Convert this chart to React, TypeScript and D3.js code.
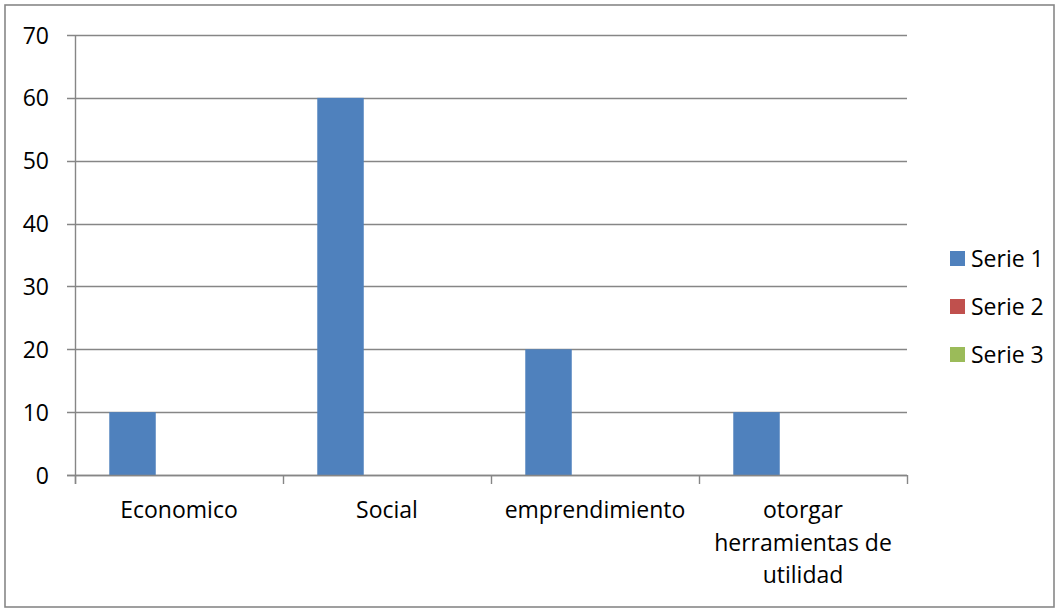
import React from "react";
import * as d3 from "d3";

const categories: string[][] = [
  ["Economico"],
  ["Social"],
  ["emprendimiento"],
  ["otorgar", "herramientas de", "utilidad"],
];
const seriesNames = ["Serie 1", "Serie 2", "Serie 3"];
const serie1 = [10, 60, 20, 10];
const serie2 = [0, 0, 0, 0];
const serie3 = [0, 0, 0, 0];
const colors = ["#4F81BD", "#C0504D", "#9BBB59"];
const yTicks = [0, 10, 20, 30, 40, 50, 60, 70];

const W = 1060;
const H = 609;
const plot = { left: 75, right: 907, top: 35, bottom: 475 };
const FONT = "'Open Sans', 'Liberation Sans', sans-serif";
const GRID = "#868686";
const FS = 23;

export default function App() {
  const seriesValues = [serie1, serie2, serie3];
  const catKeys = categories.map((c) => c.join(" "));
  const x0 = d3.scaleBand<string>().domain(catKeys).range([plot.left, plot.right]).padding(0);
  const x1 = d3
    .scaleBand<string>()
    .domain(seriesNames)
    .range([0, x0.bandwidth()])
    .paddingInner(0)
    .paddingOuter(0.737);
  const y = d3.scaleLinear().domain([0, 70]).range([plot.bottom, plot.top]);

  const boundaries = d3.range(catKeys.length + 1).map((i) => plot.left + i * x0.step());

  return (
    <svg
      width={W}
      height={H}
      style={{ position: "absolute", left: 0, top: 0, background: "#fff" }}
      fontFamily={FONT}
    >
      <rect x={0} y={0} width={W} height={H} fill="#fff" />
      <rect x={5} y={5} width={1049} height={602} fill="none" stroke="#878787" strokeWidth={1.6} />

      {/* gridlines */}
      {yTicks.map((t) => (
        <line
          key={"g" + t}
          x1={plot.left - 8}
          x2={plot.right}
          y1={Math.round(y(t)) + 0.5}
          y2={Math.round(y(t)) + 0.5}
          stroke={GRID}
          strokeWidth={1.4}
        />
      ))}

      {/* bars */}
      {seriesValues.map((vals, si) =>
        vals.map((v, ci) =>
          v > 0 ? (
            <rect
              key={`b${si}-${ci}`}
              x={(x0(catKeys[ci]) as number) + (x1(seriesNames[si]) as number)}
              y={y(v)}
              width={x1.bandwidth()}
              height={y(0) - y(v)}
              fill={colors[si]}
            />
          ) : null
        )
      )}

      {/* y axis line */}
      <line x1={plot.left + 0.5} x2={plot.left + 0.5} y1={plot.top} y2={plot.bottom + 9} stroke={GRID} strokeWidth={1.4} />
      {/* x axis line */}
      <line
        x1={plot.left - 8}
        x2={plot.right}
        y1={Math.round(y(0)) + 0.5}
        y2={Math.round(y(0)) + 0.5}
        stroke={GRID}
        strokeWidth={1.4}
      />
      {boundaries.map((bx, i) => (
        <line
          key={"t" + i}
          x1={bx + 0.5}
          x2={bx + 0.5}
          y1={plot.bottom}
          y2={plot.bottom + 9}
          stroke={GRID}
          strokeWidth={1.4}
        />
      ))}

      {/* y labels */}
      {yTicks.map((t) => (
        <text key={"yl" + t} x={49} y={y(t) + 8.5} textAnchor="end" fontSize={FS} fill="#000">
          {t}
        </text>
      ))}

      {/* x labels */}
      {categories.map((lines, ci) => (
        <text
          key={"xl" + ci}
          x={(x0(catKeys[ci]) as number) + x0.bandwidth() / 2}
          y={518}
          textAnchor="middle"
          fontSize={FS}
          fill="#000"
        >
          {lines.map((ln, li) => (
            <tspan key={li} x={(x0(catKeys[ci]) as number) + x0.bandwidth() / 2} dy={li === 0 ? 0 : 32.5}>
              {ln}
            </tspan>
          ))}
        </text>
      ))}

      {/* legend */}
      {seriesNames.map((s, i) => (
        <g key={"lg" + i} transform={`translate(950, ${251 + i * 48})`}>
          <rect x={0} y={0} width={15} height={15} fill={colors[i]} />
          <text x={21} y={15.5} fontSize={FS} fill="#000">
            {s}
          </text>
        </g>
      ))}
    </svg>
  );
}
